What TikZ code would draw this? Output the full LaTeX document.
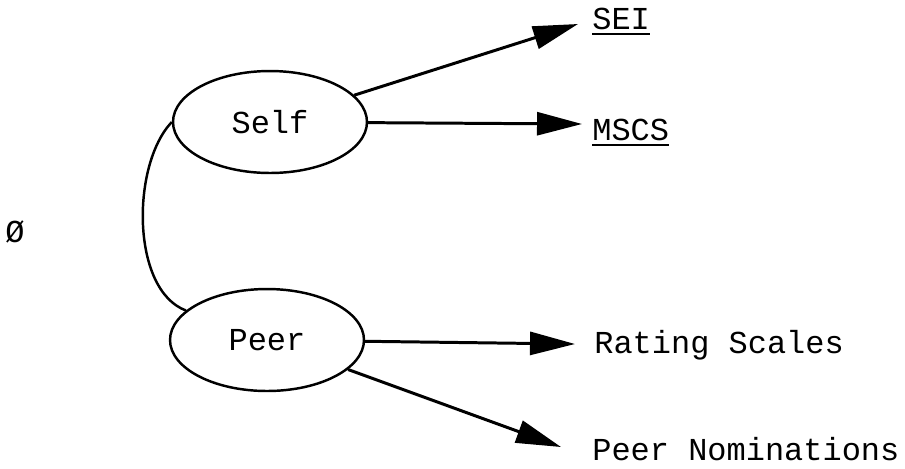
\documentclass[tikz,border=0pt]{standalone}
\usepackage{fontspec}
\setmonofont{Liberation Mono}
\usetikzlibrary{shapes.geometric,arrows.meta}

\begin{document}
\begin{tikzpicture}[x=0.02cm,y=-0.02cm,font=\ttfamily\fontsize{18.2}{22}\selectfont,
  construct/.style={ellipse,draw,line width=1.4pt,inner sep=0pt,minimum width=3.88cm,minimum height=2.04cm},
  measure/.style={anchor=base west,inner sep=0pt},
  uline/.style={line width=1.1pt},
  path/.style={line width=1.7pt,-{Triangle[length=0.9cm,width=0.46cm]}}]
\useasboundingbox (0,0) rectangle (905,468);
% latent constructs
\node[construct] (self) at (270,122) {Self};
\node[construct] (peer) at (267,340) {Peer};
% measures
\node[measure] (sei) at (592,29) {SEI};
\node[measure] (mscs) at (592,140) {MSCS};
\node[measure] (rating) at (594,353) {Rating Scales};
\node[measure] (nomin) at (592,460) {Peer Nominations};
\foreach \m in {sei,mscs} {
   \draw[uline] ([yshift=-2.6pt]\m.base west) -- ([yshift=-2.6pt]\m.base east);
}
% arrow tips
\coordinate (tsei) at (578,24);
\coordinate (tmscs) at (582,124);
\coordinate (trating) at (575,344);
\coordinate (tnomin) at (561,447);
\draw[path] (self) -- (tsei);
\draw[path] (self) -- (tmscs);
\draw[path] (peer) -- (trating);
\draw[path] (peer) -- (tnomin);
% correlation
\draw[line width=1.4pt] (self.west) .. controls (131,165) and (131,290) .. (peer.160);
\node (phi) at (15,232) {Ø};
\end{tikzpicture}
\end{document}
